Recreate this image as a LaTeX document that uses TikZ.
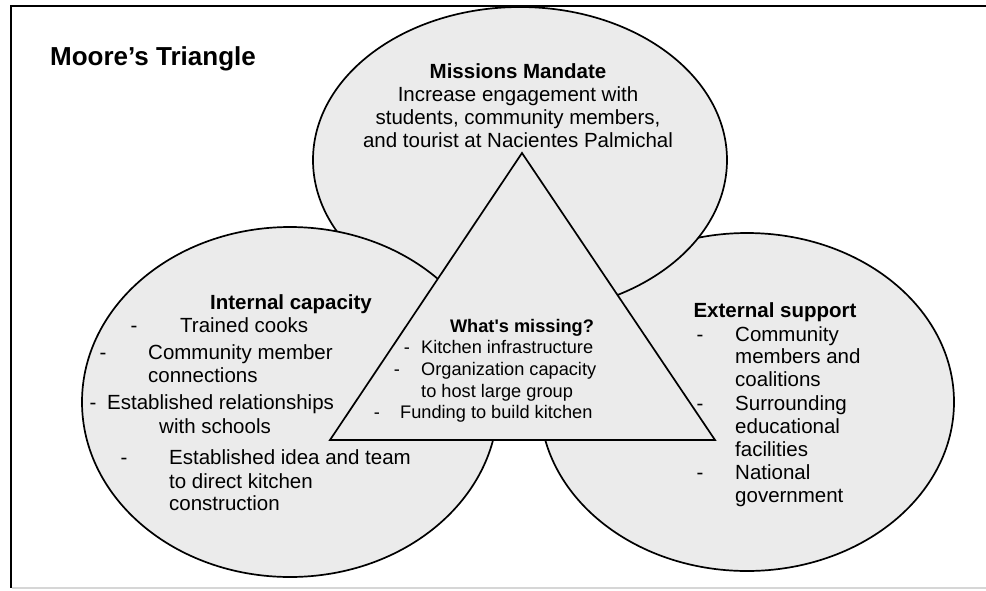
\documentclass[tikz,border=0pt]{standalone}
\usepackage{fontspec}
\setmainfont{Liberation Sans}
\usepackage{tikz}

\definecolor{blobgray}{HTML}{EBEBEB}
\definecolor{edgegray}{HTML}{D6D6D6}

\begin{document}
\begin{tikzpicture}[x=1pt, y=-1pt,
	blob/.style={fill=blobgray, draw=black, line width=1.7pt},
	txt/.style={anchor=base west, inner sep=0pt, font=\fontsize{20.5}{23}\selectfont},
	hd/.style={anchor=base, inner sep=0pt, font=\fontsize{20.5}{23}\selectfont\bfseries},
	ctr/.style={anchor=base, inner sep=0pt, font=\fontsize{20.5}{23}\selectfont},
	small/.style={anchor=base west, inner sep=0pt, font=\fontsize{18.2}{21}\selectfont}]
		\useasboundingbox (0,0) rectangle (986,590);
		\draw [line width=2pt] (986,6) -- (10.5,6) -- (10.5,588);
		\draw [edgegray, line width=2pt] (11.5,588) -- (986,588);
		\node[anchor=base west, inner sep=0pt, font=\fontsize{26}{28}\selectfont\bfseries] (title) at (50,65) {Moore's Triangle};

		% the three circles
		\draw [blob] (747,402) ellipse [x radius=207pt, y radius=169pt];
		\draw [blob] (520,160) ellipse [x radius=207pt, y radius=153pt];
		\draw [blob] (290,402) ellipse [x radius=208pt, y radius=175pt];
		% triangle
		\coordinate (apex) at (522,153);
		\coordinate (bl) at (330,440);
		\coordinate (br) at (715,440);
		\draw [blob] (apex) -- (bl) -- (br) -- cycle;

		% Missions Mandate
		\node[hd] (mm) at (518,78) {Missions Mandate};
		\node[ctr] (mm1) at (518,101) {Increase engagement with};
		\node[ctr] (mm2) at (518,124) {students, community members,};
		\node[ctr] (mm3) at (518,147) {and tourist at Nacientes Palmichal};

		% Internal capacity
		\node[hd] (ic) at (291,309) {Internal capacity};
		\node[ctr] (icd1) at (134,332) {-};
		\node[txt] (ic1) at (180,332) {Trained cooks};
		\node[ctr] (icd2) at (103,359) {-};
		\node[txt] (ic2) at (148,359) {Community member};
		\node[txt] (ic2b) at (148,382) {connections};
		\node[ctr] (icd3) at (93,409) {-};
		\node[txt] (ic3) at (107,409) {Established relationships};
		\node[txt] (ic3b) at (159,433) {with schools};
		\node[ctr] (icd4) at (124,464) {-};
		\node[txt] (ic4) at (169,464) {Established idea and team};
		\node[txt] (ic4b) at (169,488) {to direct kitchen};
		\node[txt] (ic4c) at (169,510) {construction};

		% What's missing?
		\node[hd, font=\fontsize{18.2}{21}\selectfont\bfseries] (wm) at (522,332) {What\textquotesingle s missing?};
		\node[ctr, font=\fontsize{18.2}{21}\selectfont] (wmd1) at (407,353) {-};
		\node[small] (wm1) at (421,353) {Kitchen infrastructure};
		\node[ctr, font=\fontsize{18.2}{21}\selectfont] (wmd2) at (397,375) {-};
		\node[small] (wm2) at (421,375) {Organization capacity};
		\node[small] (wm2b) at (421,397) {to host large group};
		\node[ctr, font=\fontsize{18.2}{21}\selectfont] (wmd3) at (377,418) {-};
		\node[small] (wm3) at (400,418) {Funding to build kitchen};

		% External support
		\node[hd] (es) at (775,317) {External support};
		\node[ctr] (esd1) at (700,341) {-};
		\node[txt] (es1) at (735,341) {Community};
		\node[txt] (es1b) at (735,363) {members and};
		\node[txt] (es1c) at (735,386) {coalitions};
		\node[ctr] (esd2) at (700,410) {-};
		\node[txt] (es2) at (735,410) {Surrounding};
		\node[txt] (es2b) at (735,433) {educational};
		\node[txt] (es2c) at (735,456) {facilities};
		\node[ctr] (esd3) at (700,479) {-};
		\node[txt] (es3) at (735,479) {National};
		\node[txt] (es3b) at (735,502) {government};
\end{tikzpicture}
\end{document}
